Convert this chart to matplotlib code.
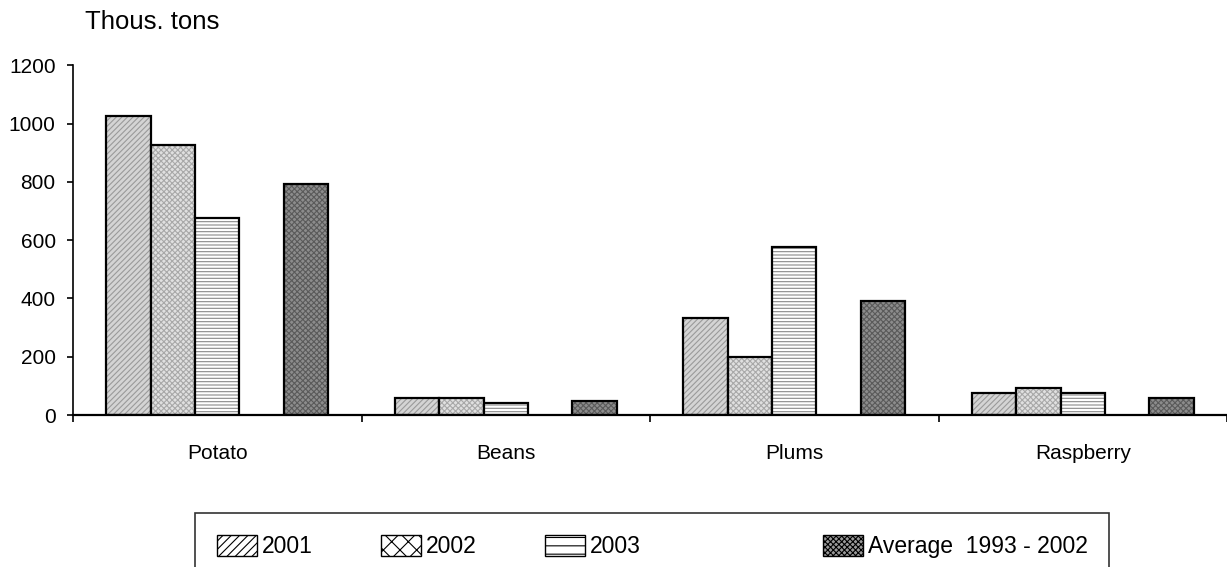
import matplotlib
matplotlib.use("Agg")
import matplotlib.pyplot as plt
from matplotlib.patches import Patch
import numpy as np

plt.rcParams['font.family'] = ['Liberation Sans', 'DejaVu Sans']
plt.rcParams['hatch.linewidth'] = 0.8

categories = ["Potato", "Beans", "Plums", "Raspberry"]
series_names = ["2001", "2002", "2003", "Average  1993 - 2002"]
v2001 = [1025, 58, 333, 75]
v2002 = [926, 58, 199, 92]
v2003 = [675, 41, 576, 75]
vavg = [792, 48, 391, 58]
yticks = [0, 200, 400, 600, 800, 1000, 1200]

values = [v2001, v2002, v2003, vavg]
slots = [-2, -1, 0, 2]
width = 0.154
faces = ['#d4d4d4', '#e0e0e0', 'white', '#8c8c8c']
hatch_cols = ['#9a9a9a', '#a8a8a8', '#8a8a8a', '#5a5a5a']
hatches = ['//////', 'xxxxxx', '-----', 'xxxxxx']

fig = plt.figure(figsize=(12.27, 5.67), dpi=100)
ax = fig.add_axes([0.0595, 0.268, 0.9405, 0.617])

x = np.arange(len(categories))
for vals, s, fc, hc, h in zip(values, slots, faces, hatch_cols, hatches):
    ax.bar(x + s * width, vals, width, color=fc, edgecolor=hc, hatch=h, lw=0)
    ax.bar(x + s * width, vals, width, facecolor='none', edgecolor='black', lw=1.6)

ax.set_xlim(-0.5, len(categories) - 0.5)
ax.set_ylim(0, 1200)
ax.set_yticks(yticks)
ax.set_xticks(x)
ax.set_xticklabels(categories)
ax.set_xticks(np.arange(len(categories) + 1) - 0.5, minor=True)
ax.tick_params(axis='x', which='major', length=0, pad=21, labelsize=15)
ax.tick_params(axis='x', which='minor', length=5, width=1.2, direction='out')
ax.tick_params(axis='y', length=4.5, width=1.2, pad=8, labelsize=15)
for side in ['top', 'right']:
    ax.spines[side].set_visible(False)
ax.spines['left'].set_linewidth(1.2)
ax.spines['bottom'].set_linewidth(1.6)

fig.text(85 / 1227, 1 - 22 / 567, "Thous. tons", ha='left', va='center', fontsize=18.5)

legend_hatches = ['////', 'xx', '--', 'xxxxxx']
legend_faces = ['white', 'white', 'white', '#9a9a9a']
handles = [Patch(facecolor=fc, edgecolor='black', hatch=h, lw=1)
           for fc, h in zip(legend_faces, legend_hatches)]
blank = Patch(facecolor='none', edgecolor='none')
handles = handles[:3] + [blank] + handles[3:]
labels = series_names[:3] + [""] + series_names[3:]
leg = fig.legend(handles, labels, ncol=5, loc='upper left',
                 bbox_to_anchor=(195 / 1227, 1 - 513 / 567),
                 frameon=True, fancybox=False, edgecolor='black',
                 fontsize=16.5, handlelength=1.75, handleheight=1.07,
                 handletextpad=0.2, columnspacing=3.0, borderpad=0.95,
                 borderaxespad=0)
leg.get_frame().set_linewidth(1.2)

fig.savefig("out.png", dpi=100)
